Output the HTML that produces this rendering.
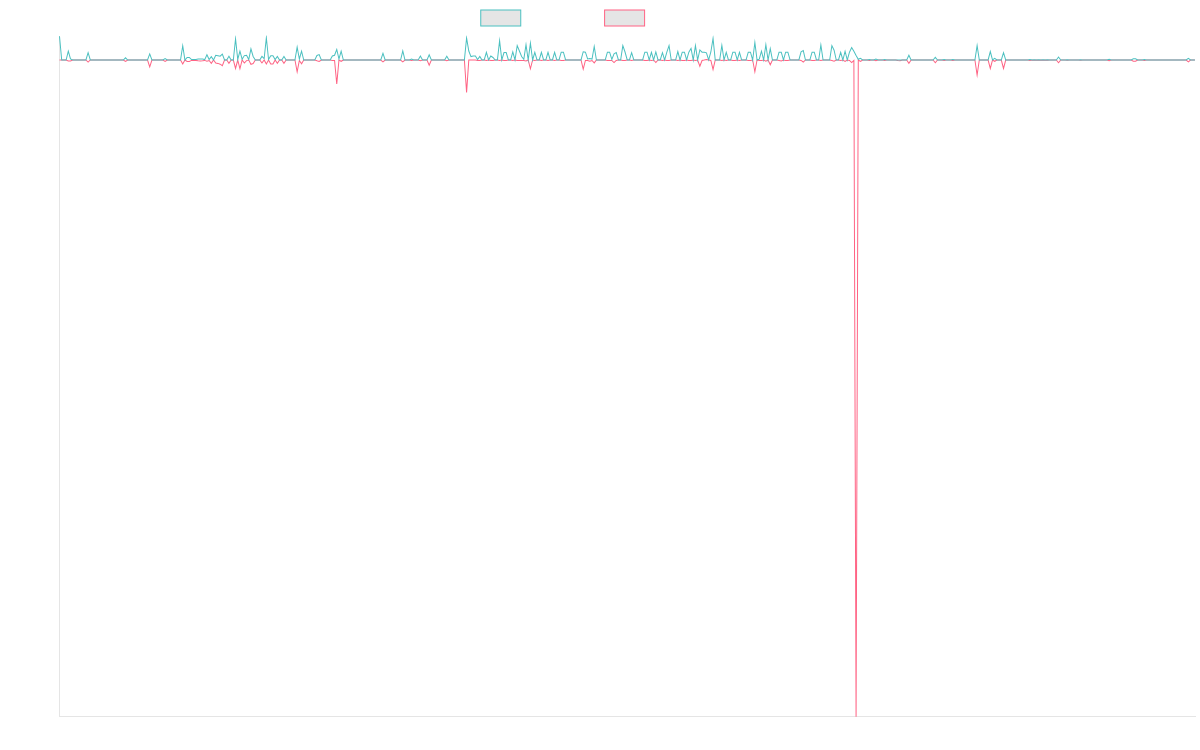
<!DOCTYPE html>
<html><head><meta charset="utf-8"><title>Chart</title>
<style>
html,body{margin:0;padding:0;background:#fff;}
body{width:1200px;height:750px;overflow:hidden;font-family:"Liberation Sans",sans-serif;}
svg{display:block;position:absolute;left:0;top:0;}
</style></head><body>
<svg width="1200" height="750" viewBox="0 0 1200 750">
<defs><clipPath id="ca"><rect x="58.5" y="35.5" width="1138" height="681.7"/></clipPath></defs>
<rect x="480.75" y="10" width="40" height="16" fill="rgb(229,229,229)" stroke="rgb(75,192,192)" stroke-width="1"/>
<rect x="604.6" y="10" width="40" height="16" fill="rgb(229,229,229)" stroke="rgb(255,99,132)" stroke-width="1"/>
<line x1="59.5" y1="36" x2="59.5" y2="716" stroke="rgba(0,0,0,0.1)" stroke-width="1"/>
<line x1="59" y1="716.5" x2="1196" y2="716.5" stroke="rgba(0,0,0,0.1)" stroke-width="1"/>
<g clip-path="url(#ca)" fill="none" stroke-width="1.001" stroke-linejoin="miter" stroke-linecap="butt" stroke-miterlimit="10">
<path stroke="rgb(255,99,132)" d="M59.5 60H66.1L68.3 61H70.5L72.7 60H85.91L88.11 62L90.31 60H123.31L125.52 61.5L127.72 60H147.52L149.72 66.79L151.92 60H162.92L165.12 61.4L167.32 60H180.53L182.73 64.07L184.93 60L187.13 61.4H189.33L191.53 60.4H195.93L198.13 60.8L200.33 60.9L202.53 60.8L204.73 60.4L206.93 61.3L209.13 60.5L211.33 63.37L213.53 60L215.74 63L217.94 63.4L220.14 64.2L222.34 65.7L224.54 60H226.74L228.94 63.35L231.14 60H233.34L235.54 68.41L237.74 60L239.94 68.76L242.14 60L244.34 63.01L246.54 60.6L248.74 60L250.94 64.27L253.14 63.5L255.34 60H259.75L261.95 62.98L264.15 60L266.35 63.98L268.55 60L270.75 64L272.95 63.91L275.15 60L277.35 63.25L279.55 60H281.75L283.95 63.25L286.15 60H294.95L297.15 71.81L299.35 60.5L301.55 63.73L303.76 60H314.76L316.96 60.8L319.16 61.4L321.36 60H330.16L332.36 60.4L334.56 60.45L336.76 83.95L338.96 60L341.16 61.3L343.36 60H380.77L382.97 61.8L385.17 60H400.58L402.78 61.8L404.98 60H409.38L411.58 60.6L413.78 60H418.18L420.38 60.8L422.58 60H426.98L429.18 65.16L431.38 60H444.59L446.79 60.8L448.99 60H464.39L466.59 92.35L468.79 60.05H475.39L477.59 60.45H479.8L482 60H484.2L486.4 60.45L488.6 60L490.8 60.45H493L495.2 60H497.4L499.6 60.45L501.8 60L504 60.45H506.2L508.4 60H510.6L512.8 60.45L515 60L517.2 60.45H523.81L526.01 61L528.21 60L530.41 68.76L532.61 60L534.81 60.45L537.01 60H539.21L541.41 60.45L543.61 60H545.81L548.01 60.45L550.21 60H552.41L554.61 60.45L556.81 60H559.01L561.21 60.45H563.41L565.62 60H581.02L583.22 69.14L585.42 60.5L587.62 60.45L589.82 61.3L592.02 60.5L594.22 62.9L596.42 60H605.22L607.42 60.45H611.83L614.03 62.6L616.23 60.45L618.43 60H620.63L622.83 60.45H625.03L627.23 60H629.43L631.63 60.45L633.83 60H642.63L644.83 60.45H647.03L649.23 60L651.43 60.45L653.63 60L655.84 62.6L658.04 60H660.24L662.44 60.45L664.64 60L666.84 60.45H669.04L671.24 60H675.64L677.84 60.45L680.04 60L682.24 60.45H684.44L686.64 60L688.84 60.45H691.04L693.24 60L695.44 60.45L697.64 60L699.85 66.27L702.05 60.45L704.25 60.1L706.45 59.5L708.65 60L710.85 60.45L713.05 69.47L715.25 60H719.65L721.85 60.45L724.05 60L726.25 60.45L728.45 60H730.65L732.85 60.45H735.05L737.25 60L739.45 60.45L741.65 60H746.06L748.26 60.45H750.46L752.66 60L754.86 71.77L757.06 60L759.26 60.45H761.46L763.66 60L765.86 61.2L768.06 60L770.26 64.8L772.46 60H776.86L779.06 60.45L781.26 61L783.46 60L785.66 60.45H787.87L790.07 60H798.87L801.07 60.45L803.27 62L805.47 60H809.87L812.07 60.45H814.27L816.47 60H818.67L820.87 60.45L823.07 60H829.67L831.88 60.45L834.08 61.2L836.28 60H838.48L840.68 60.45L842.88 60L845.08 61.4L847.28 60L849.48 60.45L851.68 62.65L853.88 60.45L856.08 716.7L858.28 60L860.48 61.4L862.68 60H867.08L869.28 60.6L871.48 60H873.68L875.89 60.8L878.09 60H882.49L884.69 60.5L886.89 60H895.69L897.89 60.6L900.09 60.8L902.29 60H906.69L908.89 63.35L911.09 60H933.1L935.3 62.8L937.5 60H941.9L944.1 60.6L946.3 60H950.7L952.9 60.5L955.1 60H974.91L977.11 74.98L979.31 60H988.11L990.31 68.41L992.51 60L994.71 61.3L996.91 60H1001.31L1003.51 68.41L1005.71 60H1027.72L1029.92 60.5L1032.12 60L1034.32 60.3L1036.52 60L1038.72 60.3L1040.92 60L1043.12 60.3L1045.32 60L1047.52 60.3L1049.72 60H1056.33L1058.53 62.8L1060.73 60H1065.13L1067.33 60.3L1069.53 60H1078.33L1080.53 60.3L1082.73 60H1106.94L1109.14 60.8L1111.34 60H1131.14L1133.34 61.2H1135.54L1137.74 60H1142.15L1144.35 60.4L1146.55 60H1186.16L1188.36 61.8L1190.56 60H1194.96"/>
<path stroke="rgb(75,192,192)" d="M59.5 36.25L61.7 60H66.1L68.3 51.18L70.5 59L72.7 60H85.91L88.11 52.67L90.31 60H123.31L125.52 57.8L127.72 60H147.52L149.72 53.93L151.92 60H162.92L165.12 58.6L167.32 60H180.53L182.73 45.73L184.93 60L187.13 57.4H189.33L191.53 59.6H195.93L198.13 59.1L200.33 59L202.53 59.1L204.73 59.6L206.93 54.8L209.13 59.5L211.33 56.63L213.53 60L215.74 55.31L217.94 55.7L220.14 56.2L222.34 54.06L224.54 60H226.74L228.94 56.2L231.14 60H233.34L235.54 38.8L237.74 59.5L239.94 51.16L242.14 59.2L244.34 55.6L246.54 55.31L248.74 59.5L250.94 48.87L253.14 56.5L255.34 60H259.75L261.95 56.41L264.15 58.7L266.35 37.8L268.55 59.5L270.75 55.7L272.95 55.79L275.15 59.5L277.35 56.45L279.55 60H281.75L283.95 56.47L286.15 60H294.95L297.15 47.16L299.35 59L301.55 51.18L303.76 60H314.76L316.96 55.5L319.16 54.56L321.36 60H330.16L332.36 56L334.56 55.3L336.76 49.46L338.96 59L341.16 51.18L343.36 60H380.77L382.97 53.3L385.17 60H400.58L402.78 50.9L404.98 60H409.38L411.58 59L413.78 60H418.18L420.38 56.11L422.58 60H426.98L429.18 54.84L431.38 60H444.59L446.79 56.2L448.99 60H464.39L466.59 38L468.79 51L470.99 56.6L473.19 55.95L475.39 56L477.59 59.5L479.8 56.45L482 60H484.2L486.4 52.31L488.6 60L490.8 56.07L493 57.5L495.2 60H497.4L499.6 40.6L501.8 60L504 52.5H506.2L508.4 60H510.6L512.8 51.95L515 60L517.2 45.55L519.4 51L521.61 56.5L523.81 59.2L526.01 44.61L528.21 60L530.41 43.14L532.61 60L534.81 52.31L537.01 60H539.21L541.41 52.31L543.61 60H545.81L548.01 52.31L550.21 60H552.41L554.61 52.31L556.81 60H559.01L561.21 52.2H563.41L565.62 60H581.02L583.22 51.74L585.42 52.2L587.62 59L589.82 58.4L592.02 59L594.22 46.51L596.42 60H605.22L607.42 52.2H609.62L611.83 59.5L614.03 53.8L616.23 52.6L618.43 60H620.63L622.83 45.66L625.03 52L627.23 60H629.43L631.63 52.67L633.83 60H642.63L644.83 52.2H647.03L649.23 60L651.43 52.31L653.63 60L655.84 51.95L658.04 60H660.24L662.44 52.67L664.64 60L666.84 52.2L669.04 45.6L671.24 60H675.64L677.84 51.59L680.04 60L682.24 52.2H684.44L686.64 60L688.84 52.2L691.04 48.5L693.24 60L695.44 45.65L697.64 60L699.85 49.93L702.05 52.2H704.25L706.45 52.8L708.65 60L710.85 52L713.05 38.4L715.25 60H719.65L721.85 45.33L724.05 60L726.25 52.31L728.45 60H730.65L732.85 52.2H735.05L737.25 60L739.45 52.31L741.65 60H746.06L748.26 52.2H750.46L752.66 60L754.86 42.52L757.06 60L759.26 59.2L761.46 51.19L763.66 60L765.86 44.7L768.06 60L770.26 48.56L772.46 60H776.86L779.06 52.2H781.26L783.46 60L785.66 52.2H787.87L790.07 60H798.87L801.07 51.8L803.27 50.52L805.47 60H809.87L812.07 52.2H814.27L816.47 60H818.67L820.87 45.02L823.07 60H829.67L831.88 45.64L834.08 50.2L836.28 60H838.48L840.68 52.31L842.88 60L845.08 51.24L847.28 60L849.48 52.2L851.68 47.54L853.88 51.3L856.08 55.5L858.28 59.3L860.48 58.4L862.68 60H867.08L869.28 59.4L871.48 60H873.68L875.89 59L878.09 60H882.49L884.69 59.5L886.89 60H906.69L908.89 55.2L911.09 60H933.1L935.3 57.2L937.5 60H941.9L944.1 59.4L946.3 60H950.7L952.9 59.5L955.1 60H974.91L977.11 45.65L979.31 60H988.11L990.31 51.59L992.51 60L994.71 58.4L996.91 60H1001.31L1003.51 52.67L1005.71 60H1027.72L1029.92 59.5L1032.12 60L1034.32 59.7L1036.52 60L1038.72 59.7L1040.92 60L1043.12 59.7L1045.32 60L1047.52 59.7L1049.72 60H1056.33L1058.53 57.02L1060.73 60H1065.13L1067.33 59.7L1069.53 60H1078.33L1080.53 59.7L1082.73 60H1106.94L1109.14 59.2L1111.34 60H1131.14L1133.34 58.8H1135.54L1137.74 60H1142.15L1144.35 59.6L1146.55 60H1186.16L1188.36 58.4L1190.56 60H1194.96"/>
</g>
</svg>
</body></html>
